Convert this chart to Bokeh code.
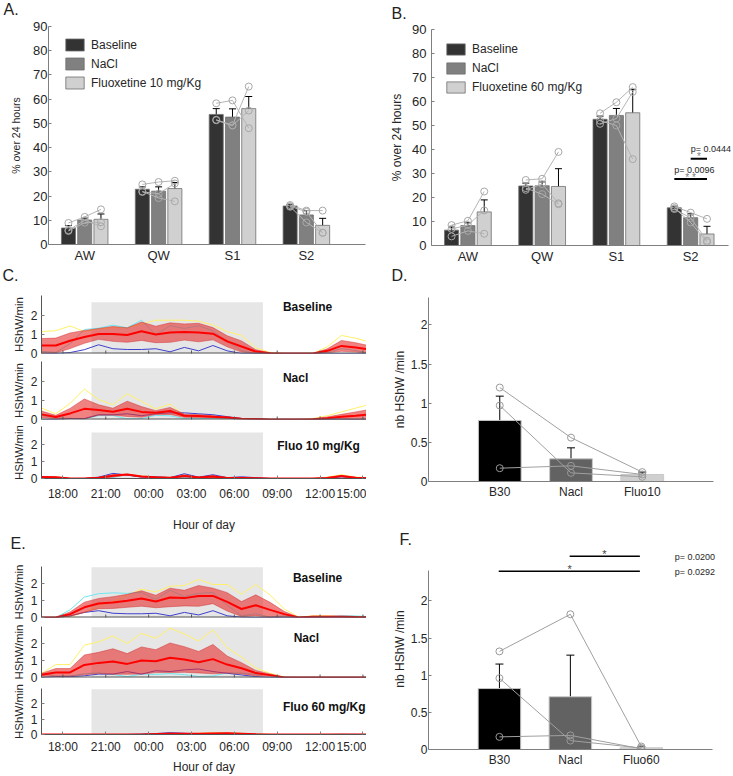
import numpy as np
from bokeh.plotting import figure
from bokeh.layouts import column, row
from bokeh.models import (Range1d, Label, Legend, LegendItem, Whisker, TeeHead,
                          ColumnDataSource, FixedTicker, NumeralTickFormatter)
from bokeh.embed import file_html
from bokeh.resources import INLINE

FONT = "Liberation Sans"
TXT = "#262626"
AXC = "#7f7f7f"

# ---------------- Panels A / B : % of 24 h per vigilance state ----------------
stages = ["AW", "QW", "S1", "S2"]
legend_A = ["Baseline", "NaCl", "Fluoxetine 10 mg/Kg"]
legend_B = ["Baseline", "NaCl", "Fluoxetine 60 mg/Kg"]
bar_colors = ["#333333", "#808080", "#d0d0d0"]

A_base = [6.8, 22.8, 53.7, 15.9]
A_nacl = [10.1, 22.0, 52.6, 12.2]
A_fluo = [10.4, 23.1, 56.1, 7.9]
A_base_err = [1.0, 1.0, 2.4, 0.5]
A_nacl_err = [0.8, 1.8, 3.4, 1.8]
A_fluo_err = [2.2, 2.5, 5.0, 2.9]
# individual animals, per stage: [baseline, nacl, fluo]
A_m1 = [[8.9, 11.4, 14.5], [24.8, 25.8, 26.3], [58.3, 59.5, 48.0], [16.3, 14.0, 14.0]]
A_m2 = [[5.9, 10.0, 7.5], [21.7, 21.0, 25.2], [51.5, 49.2, 65.2], [15.8, 13.5, 4.9]]
A_m3 = [[5.6, 9.0, 9.2], [21.9, 19.2, 17.8], [51.3, 49.1, 55.3], [15.6, 9.1, 4.8]]

B_base = [6.4, 24.8, 52.6, 15.7]
B_nacl = [8.3, 24.9, 54.2, 11.6]
B_fluo = [14.0, 24.6, 55.3, 4.8]
B_base_err = [1.3, 1.2, 1.3, 0.6]
B_nacl_err = [1.2, 1.6, 2.9, 1.6]
B_fluo_err = [5.0, 7.4, 9.7, 3.2]
B_m1 = [[8.5, 10.3, 22.5], [27.3, 27.8, 39.0], [55.1, 59.7, 66.0], [16.3, 13.7, 11.1]]
B_m2 = [[3.8, 6.1, 4.9], [23.2, 25.6, 17.6], [50.7, 52.9, 64.0], [15.2, 11.5, 2.0]]
B_m3 = [[6.9, 8.5, 14.6], [23.9, 21.4, 17.2], [52.0, 50.0, 36.0], [15.6, 9.6, 1.4]]
B_pvalues = ["p= 0.0096", "p= 0.0444"]

# ---------------- Panels C / E : HShW per minute over the day ----------------
hours = [16.5, 17.5, 18.5, 19.5, 20.5, 21.5, 22.5, 23.5, 24.5, 25.5, 26.5, 27.5,
         28.5, 29.5, 30.5, 31.5, 32.5, 33.5, 34.5, 35.5, 36.5, 37.5, 38.5, 39.5]
hour_ticks = [18, 21, 24, 27, 30, 33, 36, 39]
hour_labels = ["18:00", "21:00", "00:00", "03:00", "06:00", "09:00", "12:00", "15:00"]
dark_start, dark_end = 20, 32

C_base_yel = [1.15, 1.2, 1.45, 1.15, 1.3, 1.35, 1.35, 1.55, 1.75, 1.75, 1.75, 1.7,
              1.5, 1.15, 0.95, 0.3, 0.05, 0, 0, 0, 0.35, 0.95, 0.8, 0.6]
C_base_cya = [0.11, 0.06, 0.51, 1.26, 1.33, 1.49, 1.35, 1.75, 1.0, 1.46, 1.32, 1.46,
              1.2, 0.63, 0.16, 0.0, 0, 0, 0, 0, 0.07, 0.25, 0.16, 0.0]
C_base_blu = [0, 0, 0.05, 0.2, 0.46, 0.25, 0.21, 0.21, 0.25, 0.09, 0.32, 0.14,
              0.42, 0.14, 0, 0, 0, 0, 0, 0, 0, 0, 0, 0]

C_nacl_yel = [0.6, 0.3, 0.85, 1.6, 1.05, 0.77, 1.35, 0.95, 0.56, 0.81, 0.2, 0.2,
              0.1, 0.1, 0.05, 0.03, 0, 0, 0, 0.05, 0.2, 0.4, 0.6, 0.8]
C_nacl_cya = [0.21, 0.09, 0.06, 0.03, 0.2, 0.21, 0.03, 0.05, 0.22, 0.19, 0.05, 0.04,
              0.07, 0.05, 0.02, 0, 0, 0, 0, 0, 0.01, 0.02, 0.0, 0.01]
C_nacl_blu = [0, 0, 0.05, 0.05, 0.25, 0.25, 0.3, 0.2, 0.3, 0.35, 0.35, 0.3,
              0.25, 0.15, 0.05, 0.03, 0, 0, 0, 0, 0, 0, 0, 0]

C_fluo_yel = [0.12, 0.1, 0, 0, 0.03, 0.12, 0.25, 0.15, 0.08, 0.05, 0.12, 0.06,
              0.1, 0.03, 0, 0, 0, 0, 0, 0, 0.08, 0.22, 0.08, 0.05]
C_fluo_cya = [0.1, 0.08, 0, 0, 0.02, 0.05, 0.25, 0.12, 0.05, 0.03, 0.06, 0.05,
              0.03, 0.02, 0, 0, 0, 0, 0, 0, 0.03, 0.1, 0.02, 0]
C_fluo_blu = [0.05, 0.03, 0, 0, 0.08, 0.3, 0.2, 0.08, 0.1, 0.05, 0.28, 0.08,
              0.22, 0.05, 0.1, 0.05, 0, 0, 0, 0, 0, 0.1, 0.03, 0]

E_base_yel = [0, 0, 0.05, 0.3, 0.66, 0.94, 1.3, 1.67, 1.5, 1.84, 1.88, 2.24,
              1.94, 1.94, 1.37, 1.94, 1.33, 0.5, 0.02, 0.1, 0.1, 0.05, 0, 0]
E_base_cya = [0, 0, 0.45, 1.2, 1.4, 1.45, 1.42, 1.47, 1.07, 1.6, 1.24, 1.42,
              1.47, 0.72, 0.11, 0.22, 0.02, 0.1, 0, 0.05, 0.05, 0.1, 0.09, 0.05]
E_base_blu = [0, 0, 0.1, 0.3, 0.4, 0.25, 0.22, 0.22, 0.25, 0.1, 0.3, 0.15,
              0.4, 0.1, 0.02, 0, 0, 0, 0, 0, 0, 0, 0, 0]

E_nacl_yel = [0.25, 0.76, 0.76, 1.9, 2.1, 2.44, 2.0, 2.6, 2.3, 2.9, 2.56, 2.14,
              2.8, 1.76, 1.2, 0.56, 0.24, 0.02, 0, 0, 0, 0, 0, 0]
E_nacl_cya = [0.23, 0.09, 0.09, 0.22, 0.28, 0.18, 0.05, 0.2, 0.18, 0.23, 0.17, 0.06,
              0.09, 0.27, 0.27, 0.17, 0.18, 0, 0, 0, 0, 0, 0, 0]
E_nacl_blu = [0, 0.05, 0.05, 0.1, 0.2, 0.2, 0.35, 0.2, 0.4, 0.35, 0.45, 0.5,
              0.35, 0.25, 0.15, 0.05, 0, 0, 0, 0, 0, 0, 0, 0]

E_fluo_yel = [0, 0, 0, 0, 0, 0, 0, 0, 0, 0, 0.04, 0.08,
              0.12, 0.1, 0.08, 0.05, 0, 0, 0, 0, 0, 0, 0, 0]
E_fluo_cya = [0, 0, 0, 0, 0, 0, 0, 0, 0.02, 0.04, 0.03, 0.05,
              0.06, 0.08, 0.05, 0.02, 0, 0, 0, 0, 0, 0.02, 0.01, 0]
E_fluo_blu = [0, 0, 0, 0, 0, 0, 0, 0.02, 0.06, 0.12, 0.08, 0.03,
              0.04, 0.05, 0.03, 0, 0, 0, 0, 0, 0, 0, 0, 0]

# ---------------- Panels D / F : mean HShW per minute ----------------
D_groups = ["B30", "Nacl", "Fluo10"]
D_means = [0.78, 0.29, 0.09]
D_err = [0.31, 0.14, 0.03]
D_mice = [[1.2, 0.56, 0.12], [0.97, 0.11, 0.06], [0.17, 0.2, 0.09]]

F_groups = ["B30", "Nacl", "Fluo60"]
F_means = [0.82, 0.71, 0.023]
F_err = [0.33, 0.56, 0.012]
F_mice = [[1.32, 1.82, 0.04], [0.96, 0.12, 0.02], [0.17, 0.19, 0.01]]
F_pvalues = ["p= 0.0200", "p= 0.0292"]

BAR_DF_COLORS = ["#000000", "#626262", "#cfcfcf"]


def no_align(p):
    if "frame_align" in p.properties():
        p.frame_align = False


def base_fig(width, height, xr, yr, bl, br, bt, bb):
    p = figure(width=width, height=height, x_range=Range1d(*xr), y_range=Range1d(*yr),
               output_backend="svg", toolbar_location=None, tools="", title=None,
               min_border_left=bl, min_border_right=br, min_border_top=bt,
               min_border_bottom=bb)
    no_align(p)
    p.outline_line_color = None
    p.grid.visible = False
    p.background_fill_color = "white"
    p.border_fill_color = "white"
    for ax in p.axis:
        ax.axis_line_color = AXC
        ax.major_tick_line_color = AXC
        ax.minor_tick_line_color = None
        ax.major_tick_in = 3
        ax.major_tick_out = 0
        ax.major_label_text_font = FONT
        ax.major_label_text_font_size = "12px"
        ax.major_label_text_color = TXT
        ax.axis_label_text_font = FONT
        ax.axis_label_text_font_style = "normal"
        ax.axis_label_text_color = TXT
        ax.axis_label_text_font_size = "12px"
    return p


def strip(width, height, text, x, y):
    """Thin band above a panel that carries its panel letter (y = text middle from bottom)."""
    p = figure(width=width, height=height, x_range=Range1d(0, width), y_range=Range1d(0, height),
               output_backend="svg", toolbar_location=None, tools="", title=None,
               x_axis_location=None, y_axis_location=None, min_border=0)
    no_align(p)
    p.min_border_left = p.min_border_right = p.min_border_top = p.min_border_bottom = 0
    p.outline_line_color = None
    p.grid.visible = False
    p.add_layout(Label(x=x, y=y, text=text, text_font=FONT, text_font_size="16px",
                       text_color="#222222", text_baseline="middle", text_align="left"))
    return p


def whiskers(p, xs, vals, errs, size=7):
    src = ColumnDataSource(dict(x=xs, up=[v + e for v, e in zip(vals, errs)],
                                lo=[v - e for v, e in zip(vals, errs)]))
    w = Whisker(source=src, base="x", upper="up", lower="lo", dimension="height",
                line_color="black", line_width=1,
                upper_head=TeeHead(size=size, line_color="black", line_width=1),
                lower_head=TeeHead(size=size, line_color="black", line_width=1))
    p.add_layout(w)


def state_panel(width, height, bl, br, bt, bb, xr, axis_x, means, errs, mice, labels,
                ylabel_size, legend_xy, glyph_h, spacing, ylabel_standoff, tick_standoff):
    p = base_fig(width, height, xr, (0, 90), bl, br, bt, bb)
    offs = [-0.22, 0.0, 0.22]
    items = []
    for k in range(3):
        xs = [i + offs[k] for i in range(4)]
        r = p.vbar(x=xs, top=means[k], width=0.19, fill_color=bar_colors[k],
                   line_color="#707070", line_width=0.8)
        items.append(LegendItem(label=labels[k], renderers=[r]))
    for m in mice:
        for i in range(4):
            xs = [i + o for o in offs]
            p.line(xs, m[i], line_color="#b5b5b5", line_width=1)
            p.scatter(xs, m[i], marker="circle", size=7, fill_color=None,
                      line_color="#a8a8a8", line_width=1)
    for k in range(3):
        whiskers(p, [i + offs[k] for i in range(4)], means[k], errs[k])
    p.yaxis.ticker = FixedTicker(ticks=[0, 10, 20, 30, 40, 50, 60, 70, 80, 90])
    p.xaxis.ticker = FixedTicker(ticks=[0, 1, 2, 3])
    p.xaxis.major_label_overrides = {i: s for i, s in enumerate(stages)}
    p.xaxis.major_tick_in = 0
    p.xaxis.major_label_standoff = 3
    p.xaxis.bounds = axis_x
    p.axis.major_label_text_font_size = "13px"
    p.yaxis.axis_label = "% over 24 hours"
    p.yaxis.axis_label_text_font_size = ylabel_size
    p.yaxis.axis_label_standoff = ylabel_standoff
    p.yaxis.major_label_standoff = tick_standoff
    leg = Legend(items=items, location=legend_xy, glyph_width=23, glyph_height=glyph_h,
                 label_height=glyph_h, spacing=spacing, padding=0, margin=0, label_standoff=5,
                 border_line_alpha=0, background_fill_alpha=0,
                 label_text_font=FONT, label_text_font_size="12px",
                 label_text_color=TXT)
    p.add_layout(leg)
    return p


pA = state_panel(366, 248, 48, 1, 8, 22, (-0.49, 3.8), (-0.49, 3.8),
                 [A_base, A_nacl, A_fluo], [A_base_err, A_nacl_err, A_fluo_err],
                 [A_m1, A_m2, A_m3], legend_A, "10.5px", (15, 154), 15, 4, 8, 1)
sA = strip(366, 18, "A.", 3, 9)

pB = state_panel(367, 244, 65, 0, 7, 20, (-0.49, 3.577), (-0.49, 3.51),
                 [B_base, B_nacl, B_fluo], [B_base_err, B_nacl_err, B_fluo_err],
                 [B_m1, B_m2, B_m3], legend_B, "12px", (13, 151), 14, 5, 5, 5)
sB = strip(367, 22, "B.", 25, 9)
# significance in panel B (S2)
pB.segment(x0=[2.78, 3.0], y0=[27.7, 36.1], x1=[3.22, 3.22], y1=[27.7, 36.1],
           line_color="black", line_width=2)
for (x, y, t) in [(2.78, 31.5, B_pvalues[0]), (3.0, 40.2, B_pvalues[1])]:
    pB.add_layout(Label(x=x, y=y, text=t, text_font=FONT, text_font_size="9px", text_color=TXT,
                        text_baseline="middle", text_align="left"))
for (x, y, t) in [(3.0, 28.3, "* *"), (3.11, 36.9, "*")]:
    pB.add_layout(Label(x=x, y=y, text=t, text_font=FONT, text_font_size="10px",
                        text_color="#808080", text_baseline="middle", text_align="center"))


def ts_panel(height, bt, bb, ymax, grey_top, yel, cya, blu, title, tx, ty, last,
             label_standoff=14, tick_standoff=5):
    p = base_fig(366, height, (16.5, 39.25), (0, ymax), 41, 0, bt, bb)
    p.quad(left=[dark_start], right=[dark_end], bottom=[0], top=[grey_top],
           fill_color="#e6e6e6", line_color=None)
    p.line(hours, yel, line_color="#fff06a", line_width=1)
    p.line(hours, cya, line_color="#70e6f0", line_width=1)
    p.line(hours, blu, line_color="#4040cc", line_width=1)
    arr = np.array([yel, cya, blu], dtype=float)
    mean = arr.mean(axis=0)
    sem = arr.std(axis=0, ddof=1) / np.sqrt(arr.shape[0])
    p.varea(x=hours, y1=mean - sem, y2=mean + sem, fill_color="#e62e2e", fill_alpha=0.6)
    p.line(hours, mean + sem, line_color="#d03030", line_width=0.6, line_alpha=0.8)
    p.line(hours, mean - sem, line_color="#d03030", line_width=0.6, line_alpha=0.8)
    p.line(hours, mean, line_color="#ff0000", line_width=2)
    p.add_layout(Label(x=tx, y=ty, text=title, text_font=FONT,
                       text_font_style="bold", text_font_size="12px", text_color="#111111",
                       text_baseline="middle", text_align="left"))
    p.yaxis.ticker = FixedTicker(ticks=[0, 1, 2])
    p.yaxis.axis_label = "HShW/min"
    p.yaxis.axis_label_text_font_size = "11.5px"
    p.yaxis.axis_label_standoff = 3
    p.yaxis.major_label_standoff = 4
    p.yaxis.axis_line_color = "#555555"
    if last:
        p.xaxis.ticker = FixedTicker(ticks=hour_ticks)
        p.xaxis.axis_line_color = "#555555"
        p.xaxis.major_label_overrides = dict(zip(hour_ticks, hour_labels))
        p.xaxis.axis_label = "Hour of day"
        p.xaxis.axis_label_standoff = label_standoff
        p.xaxis.major_label_standoff = tick_standoff
    else:
        # bottom axis line with inward ticks, no labels
        p.xaxis.visible = False
        p.segment(x0=[hours[0]], y0=[0], x1=[hours[-1]], y1=[0], line_color="#555555",
                  line_width=2)
        p.scatter(hour_ticks, [0] * len(hour_ticks), marker="dash", angle=np.pi / 2, size=6,
                  line_color="#555555", line_width=1)
    return p


sC = strip(366, 24, "C.", 2, 15)
c1 = ts_panel(70, 5, 7, 3.05, 2.7, C_base_yel, C_base_cya, C_base_blu, "Baseline", 33.4, 2.44, False)
c2 = ts_panel(66, 1, 7, 3.05, 2.7, C_nacl_yel, C_nacl_cya, C_nacl_blu, "Nacl", 33.4, 2.2, False)
c3 = ts_panel(108, 0, 50, 3.05, 2.7, C_fluo_yel, C_fluo_cya, C_fluo_blu, "Fluo 10 mg/Kg", 33.0,
              1.9, True, 14, 8)

sE = strip(366, 29, "E.", 10, 20)
e1 = ts_panel(61, 3, 7, 3.0, 2.95, E_base_yel, E_base_cya, E_base_blu, "Baseline", 34.1, 2.35, False)
e2 = ts_panel(60, 2, 7, 3.0, 2.95, E_nacl_yel, E_nacl_cya, E_nacl_blu, "Nacl", 34.15, 2.3, False)
e3 = ts_panel(92, 4, 37, 3.0, 2.95, E_fluo_yel, E_fluo_cya, E_fluo_blu, "Fluo 60 mg/Kg", 33.4, 1.8,
              True, 3, 5)


def mean_panel(height, br, bt, bb, xmax, ymax, groups, means, errs, mice, axis_top):
    p = base_fig(367, height, (0, xmax), (0, ymax), 62, br, bt, bb)
    xs = [1, 2, 3]
    p.vbar(x=xs, top=means, width=0.6, fill_color=BAR_DF_COLORS, line_color="#c8c8c8",
           line_width=1)
    for m in mice:
        p.line(xs, m, line_color="#a0a0a0", line_width=1)
        p.scatter(xs, m, marker="circle", size=7, fill_color=None, line_color="#999999",
                  line_width=1)
    whiskers(p, xs, means, errs, size=8)
    p.yaxis.ticker = FixedTicker(ticks=[0, 0.5, 1, 1.5, 2])
    p.yaxis.formatter = NumeralTickFormatter(format="0.[0]")
    p.yaxis.axis_label = "nb HShW /min"
    p.yaxis.axis_label_standoff = 1
    p.yaxis.major_label_standoff = 1
    p.yaxis.bounds = (0, axis_top)
    p.xaxis.ticker = FixedTicker(ticks=xs)
    p.xaxis.major_label_overrides = dict(zip(xs, groups))
    p.xaxis.major_tick_in = 0
    p.xaxis.major_label_standoff = 3
    p.xaxis.bounds = (0, 4)
    return p


sD = strip(367, 24, "D.", 25, 15)
pD = mean_panel(240, 20, 7, 49, 4, 2.35, D_groups, D_means, D_err, D_mice, 2.35)

sF = strip(367, 18, "F.", 33, 9)
pF = mean_panel(228, 0, 0, 27, 4.3, 2.705, F_groups, F_means, F_err, F_mice, 2.41)
pF.segment(x0=[1.99, 0.99], y0=[2.6, 2.4], x1=[2.98, 2.98], y1=[2.6, 2.4],
           line_color="black", line_width=1.5)
for (x, y) in [(2.48, 2.63), (1.99, 2.43)]:
    pF.add_layout(Label(x=x, y=y, text="*", text_font=FONT, text_font_size="11px",
                        text_color="#444444", text_baseline="middle", text_align="center"))
for (y, t) in zip([2.59, 2.39], F_pvalues):
    pF.add_layout(Label(x=3.47, y=y, text=t, text_font=FONT, text_font_size="9px",
                        text_color=TXT, text_baseline="middle", text_align="left"))

left = column(sA, pA, sC, c1, c2, c3, sE, e1, e2, e3)
right = column(sB, pB, sD, pD, sF, pF)
layout = row(left, right)

open("out.html", "w").write(file_html(layout, INLINE))
